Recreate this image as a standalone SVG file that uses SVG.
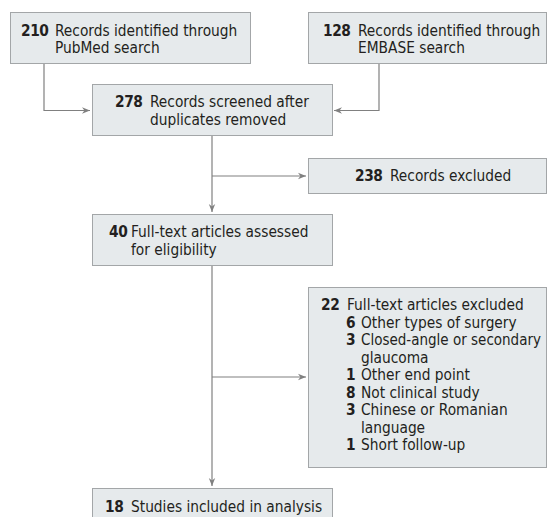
<svg xmlns="http://www.w3.org/2000/svg" width="547" height="517" viewBox="0 0 547 517">
<defs>
<marker id="ah" viewBox="0 0 10 10" refX="10" refY="5" markerWidth="8" markerHeight="8" markerUnits="userSpaceOnUse" orient="auto">
<path d="M0,1 L10,5 L0,9 L3,5 Z" fill="#808080"/>
</marker>
<style>
.box{fill:#e6eaec;stroke:#a3a6a8;stroke-width:1}
.t{font-family:"DejaVu Sans Condensed","Liberation Sans",sans-serif;font-size:15.3px;fill:#231f20}
.b{font-weight:bold;letter-spacing:-0.4px}
.c{fill:none;stroke:#808080;stroke-width:1.2}
</style>
</defs>
<rect width="547" height="517" fill="#ffffff"/>
<g id="connectors">
<path class="c" d="M44,64 V110.5 H90" marker-end="url(#ah)"/>
<path class="c" d="M379,64 V110.5 H334" marker-end="url(#ah)"/>
<path class="c" d="M212,136 V212" marker-end="url(#ah)"/>
<path class="c" d="M212,176 H306" marker-end="url(#ah)"/>
<path class="c" d="M212,266 V486" marker-end="url(#ah)"/>
<path class="c" d="M212,377 H306" marker-end="url(#ah)"/>
</g>
<g id="pubmed">
<rect class="box" x="10.5" y="12.5" width="240" height="51"/>
<text class="t" y="36"><tspan class="b" x="21">210</tspan><tspan x="55">Records identified through</tspan></text>
<text class="t" x="55" y="53">PubMed search</text>
</g>
<g id="embase">
<rect class="box" x="308.5" y="12.5" width="238" height="51"/>
<text class="t" y="36"><tspan class="b" x="323">128</tspan><tspan x="358">Records identified through</tspan></text>
<text class="t" x="358" y="53">EMBASE search</text>
</g>
<g id="screened">
<rect class="box" x="92.5" y="84.5" width="240" height="51"/>
<text class="t" y="107"><tspan class="b" x="115">278</tspan><tspan x="150">Records screened after</tspan></text>
<text class="t" x="150" y="124.5">duplicates removed</text>
</g>
<g id="excluded1">
<rect class="box" x="308.5" y="158.5" width="238" height="35"/>
<text class="t" y="181"><tspan class="b" x="355">238</tspan><tspan x="390">Records excluded</tspan></text>
</g>
<g id="fulltext">
<rect class="box" x="92.5" y="214.5" width="240" height="51"/>
<text class="t" y="237"><tspan class="b" x="109">40</tspan><tspan x="131">Full-text articles assessed</tspan></text>
<text class="t" x="131" y="255">for eligibility</text>
</g>
<g id="excluded2">
<rect class="box" x="308.5" y="287.5" width="238" height="180"/>
<text class="t" y="310"><tspan class="b" x="321">22</tspan><tspan x="347">Full-text articles excluded</tspan></text>
<text class="t" y="327.5"><tspan class="b" x="346">6</tspan><tspan x="361">Other types of surgery</tspan></text>
<text class="t" y="345"><tspan class="b" x="346">3</tspan><tspan x="361" textLength="180" lengthAdjust="spacingAndGlyphs">Closed-angle or secondary</tspan></text>
<text class="t" x="361" y="362.5">glaucoma</text>
<text class="t" y="380"><tspan class="b" x="346">1</tspan><tspan x="361">Other end point</tspan></text>
<text class="t" y="397.5"><tspan class="b" x="346">8</tspan><tspan x="361">Not clinical study</tspan></text>
<text class="t" y="415"><tspan class="b" x="346">3</tspan><tspan x="361">Chinese or Romanian</tspan></text>
<text class="t" x="361" y="432.5">language</text>
<text class="t" y="450"><tspan class="b" x="346">1</tspan><tspan x="361">Short follow-up</tspan></text>
</g>
<g id="included">
<rect class="box" x="92.5" y="488.5" width="240" height="40"/>
<text class="t" y="512"><tspan class="b" x="105">18</tspan><tspan x="131">Studies included in analysis</tspan></text>
</g>
</svg>
